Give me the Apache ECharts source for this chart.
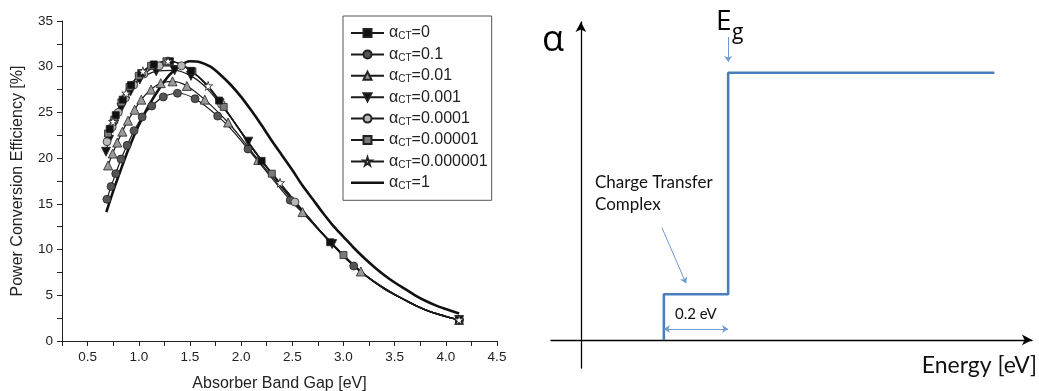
<!DOCTYPE html>
<html><head><meta charset="utf-8">
<script src="https://cdn.jsdelivr.net/npm/echarts@6/dist/echarts.min.js"></script>
<style>html,body{margin:0;padding:0;background:#fff}#c{width:1039px;height:391px}</style>
</head><body><div id="c"></div>
<script>
// ---------- Left panel data (X: band gap eV, Y: efficiency %, M: 1 = marker drawn) ----------
const legendValues = ['0', '0.1', '0.01', '0.001', '0.0001', '0.00001', '0.000001', '1'];

const a0X = [0.70, 0.716, 0.775, 0.843, 0.925, 1.024, 1.147, 1.304, 1.40, 1.51, 1.65, 1.785, 2.0, 2.2, 2.4, 2.6, 2.87, 3.1, 3.3, 3.5, 3.7, 3.9, 4.13];
const a0Y = [22.7, 23.2, 24.7, 26.4, 28.0, 29.3, 30.25, 30.6, 30.35, 29.55, 28.2, 26.3, 22.9, 19.7, 17.0, 14.3, 10.8, 8.2, 6.5, 5.1, 3.9, 3.0, 2.3];
const a0M = [0, 1, 1, 1, 1, 1, 1, 1, 0, 1, 0, 1, 0, 1, 0, 0, 1, 0, 0, 0, 0, 0, 1];

const a01X = [0.689, 0.729, 0.775, 0.827, 0.886, 0.954, 1.033, 1.127, 1.24, 1.378, 1.55, 1.771, 1.9, 2.067, 2.25, 2.48, 2.7, 2.9, 3.1, 3.3, 3.5, 3.7, 3.9, 4.133];
const a01Y = [15.5, 16.9, 18.3, 19.9, 21.4, 23.0, 24.5, 25.7, 26.7, 27.1, 26.5, 24.6, 23.2, 21.0, 18.5, 15.4, 12.9, 10.5, 8.2, 6.5, 5.1, 3.9, 3.0, 2.3];
const a01M = [1, 1, 1, 1, 1, 1, 1, 1, 1, 1, 1, 1, 0, 1, 0, 1, 0, 0, 1, 0, 0, 0, 0, 1];

const a001X = [0.70, 0.745, 0.79, 0.84, 0.895, 0.96, 1.025, 1.12, 1.215, 1.33, 1.47, 1.645, 1.873, 2.0, 2.167, 2.4, 2.6, 2.8, 3.0, 3.17, 3.4, 3.6, 3.8, 4.0, 4.13];
const a001Y = [19.2, 20.5, 21.7, 22.9, 24.1, 25.3, 26.4, 27.5, 28.2, 28.4, 27.9, 26.4, 23.9, 22.2, 19.8, 16.7, 14.1, 11.6, 9.3, 7.6, 5.7, 4.5, 3.4, 2.7, 2.3];
const a001M = [1, 1, 1, 1, 1, 1, 1, 1, 1, 1, 1, 1, 1, 0, 1, 0, 1, 0, 0, 1, 0, 0, 0, 0, 1];

const a0001X = [0.68, 0.71, 0.76, 0.83, 0.92, 1.01, 1.17, 1.35, 1.51, 1.65, 1.79, 1.93, 2.07, 2.3, 2.5, 2.7, 2.89, 3.1, 3.3, 3.5, 3.7, 3.9, 4.13];
const a0001Y = [20.7, 22.0, 23.7, 25.5, 27.3, 28.6, 29.5, 29.6, 29.0, 27.8, 26.0, 24.0, 21.8, 18.3, 15.6, 13.0, 10.6, 8.2, 6.5, 5.1, 3.9, 3.0, 2.3];
const a0001M = [1, 1, 1, 1, 1, 1, 1, 1, 1, 0, 1, 0, 1, 0, 0, 0, 1, 0, 0, 0, 0, 0, 1];

const a1e4X = [0.69, 0.74, 0.80, 0.87, 0.95, 1.05, 1.2, 1.417, 1.6, 1.808, 2.1, 2.3, 2.526, 2.8, 3.0, 3.2, 3.4, 3.6, 3.8, 4.0, 4.13];
const a1e4Y = [21.8, 23.4, 25.0, 26.6, 28.0, 29.2, 30.1, 30.1, 28.7, 25.9, 21.2, 18.3, 15.2, 11.7, 9.4, 7.3, 5.7, 4.5, 3.4, 2.7, 2.3];
const a1e4M = [1, 1, 1, 1, 1, 1, 1, 1, 0, 1, 0, 0, 1, 0, 0, 0, 0, 0, 0, 0, 1];

const a1e5X = [0.70, 0.76, 0.83, 0.91, 1.0, 1.12, 1.27, 1.40, 1.524, 1.67, 1.83, 2.05, 2.3, 2.6, 2.8, 3.0, 3.2, 3.4, 3.6, 3.8, 4.0, 4.13];
const a1e5Y = [22.7, 24.2, 26.1, 27.8, 29.0, 30.1, 30.6, 30.35, 29.5, 27.9, 25.6, 22.0, 18.3, 14.3, 11.7, 9.4, 7.3, 5.7, 4.5, 3.4, 2.7, 2.3];
const a1e5M = [1, 1, 1, 1, 1, 1, 1, 0, 1, 0, 1, 0, 1, 0, 0, 1, 0, 0, 0, 0, 0, 1];

const a1e6X = [0.70, 0.748, 0.80, 0.878, 0.95, 1.04, 1.15, 1.286, 1.45, 1.678, 1.9, 2.1, 2.38, 2.6, 2.8, 3.0, 3.2, 3.4, 3.6, 3.8, 4.0, 4.13];
const a1e6Y = [22.8, 24.0, 25.4, 27.1, 28.4, 29.5, 30.3, 30.6, 30.0, 27.9, 24.5, 21.2, 17.3, 14.3, 11.7, 9.4, 7.3, 5.7, 4.5, 3.4, 2.7, 2.3];
const a1e6M = [0, 1, 0, 1, 0, 1, 0, 1, 0, 1, 0, 0, 1, 0, 0, 0, 0, 0, 0, 0, 0, 1];

const a1X = [0.683, 0.75, 0.82, 0.90, 1.00, 1.10, 1.20, 1.30, 1.40, 1.50, 1.60, 1.70, 1.80, 1.90, 2.00, 2.10, 2.20, 2.30, 2.40, 2.50, 2.60, 2.70, 2.80, 2.90, 3.00, 3.10, 3.20, 3.30, 3.40, 3.50, 3.60, 3.70, 3.80, 3.90, 4.00, 4.13];
const a1Y = [14.1, 16.4, 18.6, 21.0, 23.6, 25.8, 27.6, 29.1, 30.1, 30.6, 30.5, 30.0, 29.1, 28.0, 26.7, 25.2, 23.6, 21.9, 20.3, 18.7, 17.0, 15.5, 14.0, 12.6, 11.4, 10.2, 9.1, 8.1, 7.2, 6.4, 5.7, 5.0, 4.4, 3.9, 3.5, 3.0];

const xAxisName = 'Absorber Band Gap [eV]';
const yAxisName = 'Power Conversion Efficiency [%]';

// ---------- Right panel data (schematic, arbitrary units) ----------
const stepX = [0.258, 0.258, 0.458, 0.458, 1.286];
const stepY = [0, 0.171, 0.171, 1, 1];
const egArrow = [[0.458, 1.134], [0.458, 1.04]];
const ctArrow = [[0.252, 0.42], [0.327, 0.212]];
const gapArrow = [[0.258, 0.041], [0.458, 0.041]];

const FONT = 'Liberation Sans';
const STAR = 'path://M50,2 L61,36 L97,36 L68,57 L79,92 L50,71 L21,92 L32,57 L3,36 L39,36 Z';

function pts(xs, ys, ms) {
  return xs.map((x, i) => (ms && !ms[i]) ? { value: [x, ys[i]], symbol: 'none' } : [x, ys[i]]);
}

function markerSeries(name, xs, ys, ms, symbol, size, fill, rotate) {
  return {
    type: 'line', name: name, xAxisIndex: 0, yAxisIndex: 0,
    data: pts(xs, ys, ms), smooth: 0.3, symbol: symbol, symbolSize: size,
    symbolRotate: rotate || 0, showAllSymbol: true,
    lineStyle: { color: '#1a1a1a', width: 1.2 },
    itemStyle: { color: fill, borderColor: '#222', borderWidth: 0.8 },
    z: 3
  };
}

const chart = echarts.init(document.getElementById('c'), null, { renderer: 'canvas' });
chart.setOption({
  animation: false,
  backgroundColor: '#fff',
  grid: [
    { left: 62, top: 21, right: 542, bottom: 50, containLabel: false, outerBoundsMode: 'none' },
    { left: 551, top: 22, right: 7, bottom: 23, containLabel: false, outerBoundsMode: 'none' }
  ],
  xAxis: [
    {
      gridIndex: 0, type: 'value', min: 0.25, max: 4.5, interval: 0.25,
      axisLine: { onZero: false, lineStyle: { color: '#222', width: 1 } },
      axisTick: { show: true, length: 5, lineStyle: { color: '#222' } },
      splitLine: { show: false },
      axisLabel: {
        color: '#222', fontFamily: FONT, fontSize: 13.5, margin: 9,
        formatter: v => Math.abs(v * 2 - Math.round(v * 2)) < 1e-6 ? v.toFixed(1) : ''
      },
      name: xAxisName, nameLocation: 'middle', nameGap: 34.5,
      nameTextStyle: { color: '#222', fontFamily: FONT, fontSize: 16 }
    },
    {
      gridIndex: 1, type: 'value', min: -0.093, max: 1.403,
      axisLine: { onZero: true, symbol: ['none', 'arrow'], symbolSize: [8, 10], lineStyle: { color: '#000', width: 1.3 } },
      axisTick: { show: false }, axisLabel: { show: false }, splitLine: { show: false }
    }
  ],
  yAxis: [
    {
      gridIndex: 0, type: 'value', min: 0, max: 35, interval: 2.5,
      axisLine: { show: true, onZero: false, lineStyle: { color: '#222', width: 1 } },
      axisTick: { show: true, length: 5, lineStyle: { color: '#222' } },
      splitLine: { show: false },
      axisLabel: {
        color: '#222', fontFamily: FONT, fontSize: 13.5, margin: 9,
        formatter: v => (Math.abs(v % 5) < 1e-6 ? String(v) : '')
      },
      name: yAxisName, nameLocation: 'middle', nameGap: 36,
      nameTextStyle: { color: '#222', fontFamily: FONT, fontSize: 16 }
    },
    {
      gridIndex: 1, type: 'value', min: -0.105, max: 1.19,
      axisLine: { onZero: true, symbol: ['none', 'arrow'], symbolSize: [8, 10], lineStyle: { color: '#000', width: 1.3 } },
      axisTick: { show: false }, axisLabel: { show: false }, splitLine: { show: false }
    }
  ],
  legend: {
    data: legendValues.map(v => v === '1'
      ? { name: v, icon: 'path://M0,0 L33,0 L33,2.6 L0,2.6 Z', itemStyle: { color: '#111' } }
      : { name: v }),
    orient: 'vertical', left: 343, top: 16,
    padding: [9, 4, 9, 7],
    itemWidth: 33, itemHeight: 10, itemGap: 4.9,
    borderColor: '#555', borderWidth: 1,
    backgroundColor: '#fff',
    formatter: name => '{a|α}{s|CT}{a|=' + name + '}',
    textStyle: {
      rich: {
        a: { fontSize: 16, fontFamily: FONT, color: '#222', lineHeight: 17 },
        s: { fontSize: 10, fontFamily: FONT, color: '#222', verticalAlign: 'bottom', lineHeight: 8 }
      }
    }
  },
  series: [
    {
      type: 'line', name: '1', xAxisIndex: 0, yAxisIndex: 0,
      data: pts(a1X, a1Y), smooth: 0.3, symbol: 'none',
      lineStyle: { color: '#111', width: 2.6 }, itemStyle: { color: '#111' }, z: 2
    },
    markerSeries('0.1', a01X, a01Y, a01M, 'circle', 8, '#555'),
    markerSeries('0.01', a001X, a001Y, a001M, 'triangle', 9, '#9a9a9a'),
    markerSeries('0.001', a0001X, a0001Y, a0001M, 'triangle', 9, '#111', 180),
    markerSeries('0.0001', a1e4X, a1e4Y, a1e4M, 'circle', 8, '#b8b8b8'),
    markerSeries('0.00001', a1e5X, a1e5Y, a1e5M, 'rect', 7, '#7a7a7a'),
    markerSeries('0', a0X, a0Y, a0M, 'rect', 7, '#111'),
    markerSeries('0.000001', a1e6X, a1e6Y, a1e6M, STAR, 9, '#fff'),
    // right panel
    {
      type: 'line', name: 'absorption', xAxisIndex: 1, yAxisIndex: 1,
      data: pts(stepX, stepY), symbol: 'none',
      lineStyle: { color: '#4a7ebb', width: 2.6 }, z: 3
    },
    {
      type: 'lines', coordinateSystem: 'cartesian2d', xAxisIndex: 1, yAxisIndex: 1,
      symbol: ['none', 'arrow'], symbolSize: 6,
      lineStyle: { color: '#6f9bd1', width: 1, opacity: 1, curveness: 0 },
      data: [{ coords: egArrow }, { coords: ctArrow }], z: 4
    },
    {
      type: 'lines', coordinateSystem: 'cartesian2d', xAxisIndex: 1, yAxisIndex: 1,
      symbol: ['arrow', 'arrow'], symbolSize: 6,
      lineStyle: { color: '#6f9bd1', width: 1, opacity: 1, curveness: 0 },
      data: [{ coords: gapArrow }], z: 4
    }
  ],
  graphic: [
    { type: 'text', style: { text: 'α', x: 542, y: 41, fontSize: 36, fontFamily: 'Open Sans', fill: '#000', align: 'left', verticalAlign: 'middle' } },
    { type: 'text', style: { text: 'E', x: 716, y: 22, fontSize: 28, fontFamily: 'Open Sans', fill: '#000', align: 'left', verticalAlign: 'middle' } },
    { type: 'text', style: { text: 'g', x: 732, y: 33, fontSize: 21, fontFamily: 'Open Sans', fill: '#000', align: 'left', verticalAlign: 'middle' } },
    { type: 'text', style: { text: 'Charge Transfer', x: 595, y: 183, fontSize: 17, fontFamily: 'Lato', fill: '#111', align: 'left', verticalAlign: 'middle' } },
    { type: 'text', style: { text: 'Complex', x: 595, y: 205, fontSize: 17, fontFamily: 'Lato', fill: '#111', align: 'left', verticalAlign: 'middle' } },
    { type: 'text', style: { text: '0.2 eV', x: 675, y: 314, fontSize: 15, fontFamily: 'Lato', fill: '#111', align: 'left', verticalAlign: 'middle' } },
    { type: 'text', style: { text: 'Energy [eV]', x: 1037, y: 366, fontSize: 23, fontFamily: 'Lato', fill: '#111', align: 'right', verticalAlign: 'middle' } }
  ]
});
</script></body></html>
